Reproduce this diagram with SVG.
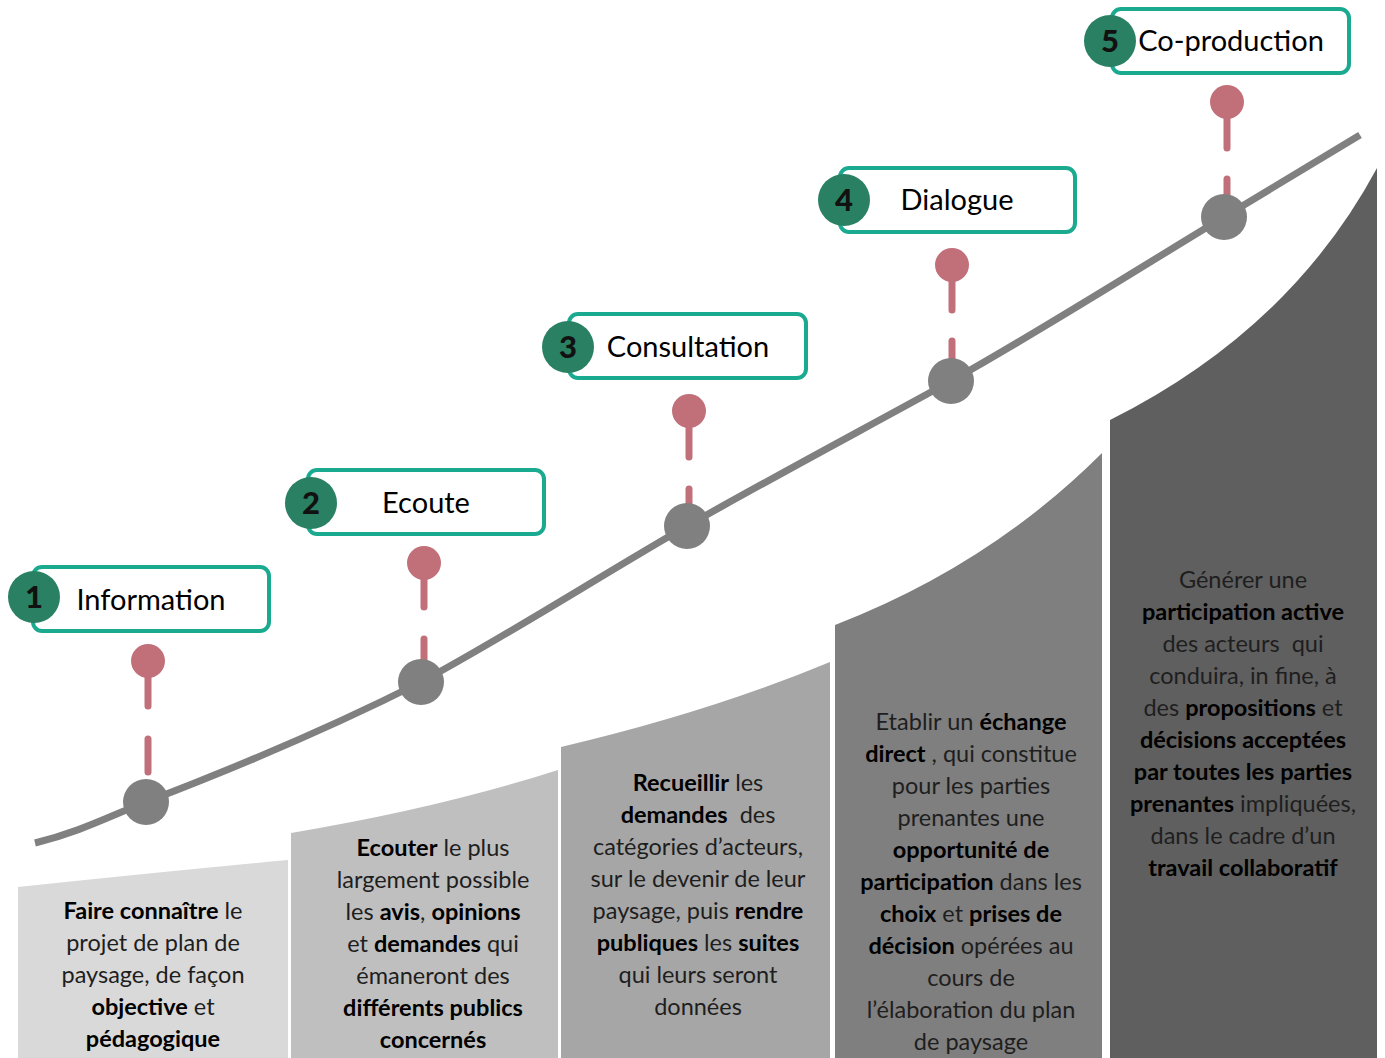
<svg xmlns="http://www.w3.org/2000/svg" width="1385" height="1058" viewBox="0 0 1385 1058">
<style>
.col text{font-family:Lato,"Liberation Sans",sans-serif;font-size:23.5px;font-weight:400;fill:#1e1e1e;text-anchor:middle;white-space:pre}
.col .b{font-weight:700;fill:#000}
.lbl{fill:#fff;stroke:#1aaa8f;stroke-width:4}
.num{fill:#2a8062}
.numt{font-family:Lato,"Liberation Sans",sans-serif;font-size:31px;font-weight:900;fill:#111;text-anchor:middle}
.lt{font-family:Lato,"Liberation Sans",sans-serif;font-size:29px;fill:#000;text-anchor:middle}
.dot{fill:#808080}
.pin{stroke:#c1707a;stroke-width:7;stroke-linecap:round}
.pinh{fill:#c1707a}
</style>
<rect width="1385" height="1058" fill="#fff"/>
<g id="columns">
<path id="col1" d="M18,887 Q160,872 288,860 L288,1058 L18,1058 Z" fill="#d9d9d9"/>
<path id="col2" d="M291,833 Q440,808 558,770 L558,1058 L291,1058 Z" fill="#bfbfbf"/>
<path id="col3" d="M561,747 Q710,712 830,662 L830,1058 L561,1058 Z" fill="#a6a6a6"/>
<path id="col4" d="M835,625 Q990,565 1102,453 L1102,1058 L835,1058 Z" fill="#7f7f7f"/>
<path id="col5" d="M1110,420 Q1290,330 1377,168 L1377,1058 L1110,1058 Z" fill="#5f5f5f"/>
</g>
<g id="connectors">
<path d="M35,843 C80,832 110,816 146,802 C240,766 330,728 421,682 C510,634 600,576 687,526 C775,476 862,430 951,381 C1042,330 1133,272 1224,217 L1360,135" fill="none" stroke="#808080" stroke-width="7"/>
<line class="pin" x1="148" y1="670" x2="148" y2="706"/><line class="pin" x1="148" y1="739" x2="148" y2="772"/>
<line class="pin" x1="424" y1="572" x2="424" y2="607"/><line class="pin" x1="424" y1="639" x2="424" y2="662"/>
<line class="pin" x1="689" y1="420" x2="689" y2="457"/><line class="pin" x1="689" y1="489" x2="689" y2="506"/>
<line class="pin" x1="952" y1="274" x2="952" y2="310"/><line class="pin" x1="952" y1="341" x2="952" y2="360"/>
<line class="pin" x1="1227" y1="111" x2="1227" y2="148"/><line class="pin" x1="1227" y1="179" x2="1227" y2="196"/>
</g>
<g id="pins">
<circle class="pinh" cx="148" cy="661" r="17"/>
<circle class="pinh" cx="424" cy="563" r="17"/>
<circle class="pinh" cx="689" cy="411" r="17"/>
<circle class="pinh" cx="952" cy="265" r="17"/>
<circle class="pinh" cx="1227" cy="102" r="17"/>
</g>
<g id="dot1"><circle class="dot" cx="146" cy="802" r="23"/></g>
<g id="dot2"><circle class="dot" cx="421" cy="682" r="23"/></g>
<g id="dot3"><circle class="dot" cx="687" cy="526" r="23"/></g>
<g id="dot4"><circle class="dot" cx="951" cy="381" r="23"/></g>
<g id="dot5"><circle class="dot" cx="1224" cy="217" r="23"/></g>
<g id="step1"><rect class="lbl" x="33" y="567" width="236" height="64" rx="9"/><circle class="num" cx="34" cy="597" r="26"/><text class="numt" x="34" y="608">1</text><text class="lt" x="151" y="610">Information</text></g>
<g id="step2"><rect class="lbl" x="308" y="470" width="236" height="64" rx="9"/><circle class="num" cx="311" cy="503" r="26"/><text class="numt" x="311" y="514">2</text><text class="lt" x="426" y="513">Ecoute</text></g>
<g id="step3"><rect class="lbl" x="569" y="314" width="237" height="64" rx="9"/><circle class="num" cx="568" cy="347" r="26"/><text class="numt" x="568" y="358">3</text><text class="lt" x="688" y="357">Consultation</text></g>
<g id="step4"><rect class="lbl" x="840" y="168" width="235" height="64" rx="9"/><circle class="num" cx="844" cy="200" r="26"/><text class="numt" x="844" y="211">4</text><text class="lt" x="957" y="210">Dialogue</text></g>
<g id="step5"><rect class="lbl" x="1112" y="9" width="237" height="64" rx="9"/><circle class="num" cx="1110" cy="41" r="26"/><text class="numt" x="1110" y="52">5</text><text class="lt" x="1231" y="51">Co-production</text></g>
<g class="col" id="text1">
<text x="153" y="919"><tspan class="b">Faire connaître</tspan> le</text>
<text x="153" y="951">projet de plan de</text>
<text x="153" y="983">paysage, de façon</text>
<text x="153" y="1015"><tspan class="b">objective</tspan> et</text>
<text x="153" y="1047"><tspan class="b">pédagogique</tspan></text>
</g>
<g class="col" id="text2">
<text x="433" y="856"><tspan class="b">Ecouter</tspan> le plus</text>
<text x="433" y="888">largement possible</text>
<text x="433" y="920">les <tspan class="b">avis</tspan>, <tspan class="b">opinions</tspan></text>
<text x="433" y="952">et <tspan class="b">demandes</tspan> qui</text>
<text x="433" y="984">émaneront des</text>
<text x="433" y="1016"><tspan class="b">différents publics</tspan></text>
<text x="433" y="1048"><tspan class="b">concernés</tspan></text>
</g>
<g class="col" id="text3">
<text x="698" y="791"><tspan class="b">Recueillir</tspan> les</text>
<text x="698" y="823"><tspan class="b">demandes</tspan>  des</text>
<text x="698" y="855">catégories d’acteurs,</text>
<text x="698" y="887">sur le devenir de leur</text>
<text x="698" y="919">paysage, puis <tspan class="b">rendre</tspan></text>
<text x="698" y="951"><tspan class="b">publiques</tspan> les <tspan class="b">suites</tspan></text>
<text x="698" y="983">qui leurs seront</text>
<text x="698" y="1015">données</text>
</g>
<g class="col" id="text4">
<text x="971" y="730">Etablir un <tspan class="b">échange</tspan></text>
<text x="971" y="762"><tspan class="b">direct</tspan> , qui constitue</text>
<text x="971" y="794">pour les parties</text>
<text x="971" y="826">prenantes une</text>
<text x="971" y="858"><tspan class="b">opportunité de</tspan></text>
<text x="971" y="890"><tspan class="b">participation</tspan> dans les</text>
<text x="971" y="922"><tspan class="b">choix</tspan> et <tspan class="b">prises de</tspan></text>
<text x="971" y="954"><tspan class="b">décision</tspan> opérées au</text>
<text x="971" y="986">cours de</text>
<text x="971" y="1018">l’élaboration du plan</text>
<text x="971" y="1050">de paysage</text>
</g>
<g class="col" id="text5">
<text x="1243" y="588">Générer une</text>
<text x="1243" y="620"><tspan class="b">participation active</tspan></text>
<text x="1243" y="652">des acteurs  qui</text>
<text x="1243" y="684">conduira, in fine, à</text>
<text x="1243" y="716">des <tspan class="b">propositions</tspan> et</text>
<text x="1243" y="748"><tspan class="b">décisions acceptées</tspan></text>
<text x="1243" y="780"><tspan class="b">par toutes les parties</tspan></text>
<text x="1243" y="812"><tspan class="b">prenantes</tspan> impliquées,</text>
<text x="1243" y="844">dans le cadre d’un</text>
<text x="1243" y="876"><tspan class="b">travail collaboratif</tspan></text>
</g>
</svg>
